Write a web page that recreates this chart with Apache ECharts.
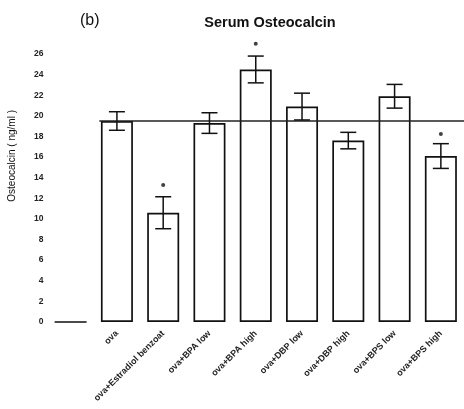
<!DOCTYPE html>
<html>
<head>
<meta charset="utf-8">
<script src="https://cdn.jsdelivr.net/npm/echarts@6/dist/echarts.min.js"></script>
<style>
html,body{margin:0;padding:0;background:#fff;}
#chart{width:464px;height:409px;}
</style>
</head>
<body>
<div id="chart"></div>
<script>
// Groups and serum osteocalcin (ng/ml): mean, SEM and significance marks
const groups = ['', 'ova', 'ova+Estradiol benzoat', 'ova+BPA low', 'ova+BPA high',
                'ova+DBP low', 'ova+DBP high', 'ova+BPS low', 'ova+BPS high'];
const means = [0, 19.5, 10.6, 19.3, 24.5, 20.9, 17.6, 21.9, 16.1];
const sems  = [0, 0.9, 1.55, 1.0, 1.3, 1.3, 0.8, 1.15, 1.2];
const starY = [null, null, 13.3, null, 27.0, null, null, null, 18.25];
const refLevel = 19.5;           // ova mean, drawn as a reference line
const refSpan = [0.62, 8.5];     // along the group index scale
const yTicks = [0, 26, 2];       // min, max, step

const FONT = '"Liberation Sans", Arial, sans-serif';
const chart = echarts.init(document.getElementById('chart'), null, {renderer: 'canvas'});

const errData = means.map((m, i) => [i, m - sems[i], m + sems[i]]);
const starData = starY.map((v, i) => v == null ? null : [i, v]).filter(d => d);

chart.setOption({
  animation: false,
  backgroundColor: '#fff',
  title: [
    {text: 'Serum Osteocalcin', left: 265, top: 10, textAlign: 'center',
     textStyle: {fontFamily: FONT, fontSize: 14.5, fontWeight: 'bold', color: '#111'}},
    {text: '(b)', left: 75, top: 8,
     textStyle: {fontFamily: FONT, fontSize: 16, fontWeight: 'normal', color: '#111'}}
  ],
  graphic: [{
    type: 'text', left: 7, top: 110, rotation: Math.PI / 2,
    style: {text: 'Osteocalcin ( ng/ml )', font: '10px ' + FONT, fill: '#111'}
  }],
  grid: {left: 47.5, right: -11, top: 54, bottom: 87},
  xAxis: [{
    type: 'category', data: groups,
    axisLine: {show: false}, axisTick: {show: false},
    axisLabel: {rotate: 45, interval: 0, margin: 10, fontFamily: FONT, fontSize: 9,
                fontWeight: 'bold', color: '#222'}
  }, {
    type: 'value', min: -0.5, max: groups.length - 0.5, show: false
  }],
  yAxis: {
    type: 'value', min: yTicks[0], max: yTicks[1], interval: yTicks[2],
    axisLine: {show: false}, axisTick: {show: false}, splitLine: {show: false},
    axisLabel: {margin: 4, fontFamily: FONT, fontSize: 8.5, fontWeight: 'bold', color: '#222'}
  },
  series: [{
    type: 'bar', data: means, barWidth: 32, xAxisIndex: 0,
    itemStyle: {color: '#fff', borderColor: '#111', borderWidth: 1.7}
  }, {
    type: 'line', xAxisIndex: 1, data: [[refSpan[0], refLevel], [refSpan[1], refLevel]],
    symbol: 'none', lineStyle: {color: '#222', width: 1.5}, z: 3
  }, {
    type: 'custom', xAxisIndex: 0, data: errData.filter((d, i) => sems[i] > 0), z: 4,
    renderItem: function (params, api) {
      const x = api.value(0);
      const lo = api.coord([x, api.value(1)]);
      const hi = api.coord([x, api.value(2)]);
      const hw = 8;
      const st = {stroke: '#111', lineWidth: 1.5};
      return {type: 'group', children: [
        {type: 'line', shape: {x1: hi[0], y1: hi[1], x2: lo[0], y2: lo[1]}, style: st},
        {type: 'line', shape: {x1: hi[0] - hw, y1: hi[1], x2: hi[0] + hw, y2: hi[1]}, style: st},
        {type: 'line', shape: {x1: lo[0] - hw, y1: lo[1], x2: lo[0] + hw, y2: lo[1]}, style: st}
      ]};
    }
  }, {
    type: 'scatter', xAxisIndex: 0, data: starData, clip: false,
    symbol: 'circle', symbolSize: 4, itemStyle: {color: '#111'}
  }]
});
</script>
</body>
</html>
